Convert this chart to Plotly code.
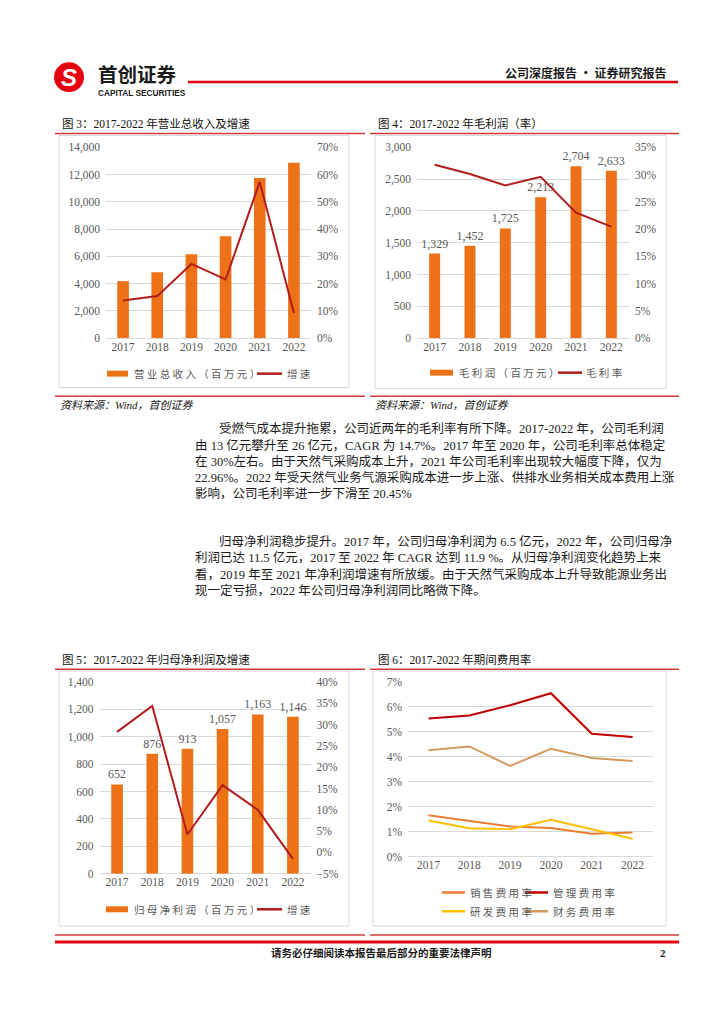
import plotly.graph_objects as go

W, H = 724, 1024


def X(p):
    return p / W


def Y(p):
    return 1 - p / H


# ---------------- data ----------------
years = ["2017", "2018", "2019", "2020", "2021", "2022"]
revenue = [4180, 4830, 6160, 7480, 11740, 12860]
revenue_growth = [0.138, 0.154, 0.272, 0.215, 0.573, 0.092]
gross_profit = [1329, 1452, 1725, 2213, 2704, 2633]
gross_margin = [0.318, 0.301, 0.280, 0.296, 0.230, 0.2045]
net_profit = [652, 876, 913, 1057, 1163, 1146]
net_growth = [0.283, 0.344, 0.042, 0.158, 0.100, -0.015]
sales_rate = [0.0167, 0.0144, 0.0122, 0.0116, 0.0093, 0.0098]
admin_rate = [0.0554, 0.0566, 0.0607, 0.0655, 0.0493, 0.0480]
rd_rate = [0.0146, 0.0115, 0.0111, 0.0149, 0.0111, 0.0073]
fin_rate = [0.0427, 0.0442, 0.0364, 0.0433, 0.0396, 0.0384]

para1 = [
    "受燃气成本提升拖累，公司近两年的毛利率有所下降。2017-2022 年，公司毛利润",
    "由 13 亿元攀升至 26 亿元，CAGR 为 14.7%。2017 年至 2020 年，公司毛利率总体稳定",
    "在 30%左右。由于天然气采购成本上升，2021 年公司毛利率出现较大幅度下降，仅为",
    "22.96%。2022 年受天然气业务气源采购成本进一步上涨、供排水业务相关成本费用上涨",
    "影响，公司毛利率进一步下滑至 20.45%",
]
para2 = [
    "归母净利润稳步提升。2017 年，公司归母净利润为 6.5 亿元，2022 年，公司归母净",
    "利润已达 11.5 亿元，2017 至 2022 年 CAGR 达到 11.9 %。从归母净利润变化趋势上来",
    "看，2019 年至 2021 年净利润增速有所放缓。由于天然气采购成本上升导致能源业务出",
    "现一定亏损，2022 年公司归母净利润同比略微下降。",
]

# ---------------- style ----------------
ORANGE = "#ED7117"
DARKRED = "#B21C1C"
SALES_C = "#ED7D31"
ADMIN_C = "#C00000"
RD_C = "#FFC000"
FIN_C = "#D29A5E"
GRID = "#D9D9D9"
TICK = "#595959"
RED = "#E00012"
TRED = "#D23A3A"
FONT = "Liberation Serif, Noto Sans CJK SC, serif"
CJK = "Noto Sans CJK SC, sans-serif"

fig = go.Figure()

# chart 3
fig.add_trace(go.Bar(x=years, y=revenue, width=0.34, marker=dict(color=ORANGE, line_width=0),
                     xaxis="x", yaxis="y", showlegend=False))
fig.add_trace(go.Scatter(x=years, y=revenue_growth, mode="lines", line=dict(color=DARKRED, width=2),
                         xaxis="x", yaxis="y2", showlegend=False))
# chart 4
fig.add_trace(go.Bar(x=years, y=gross_profit, width=0.31, marker=dict(color=ORANGE, line_width=0),
                     text=[f"{v:,}" for v in gross_profit], textposition="outside",
                     textfont=dict(family=FONT, size=12, color=TICK), constraintext="none",
                     textangle=0, cliponaxis=False, xaxis="x2", yaxis="y3", showlegend=False))
fig.add_trace(go.Scatter(x=years, y=gross_margin, mode="lines", line=dict(color=DARKRED, width=2),
                         xaxis="x2", yaxis="y4", showlegend=False))
# chart 5
fig.add_trace(go.Bar(x=years, y=net_profit, width=0.33, marker=dict(color=ORANGE, line_width=0),
                     text=[f"{v:,}" for v in net_profit], textposition="outside",
                     textfont=dict(family=FONT, size=12, color=TICK), constraintext="none",
                     textangle=0, cliponaxis=False, xaxis="x3", yaxis="y5", showlegend=False))
fig.add_trace(go.Scatter(x=years, y=net_growth, mode="lines", line=dict(color=DARKRED, width=2),
                         xaxis="x3", yaxis="y6", showlegend=False))
# chart 6
for vals, col in [(sales_rate, SALES_C), (admin_rate, ADMIN_C), (rd_rate, RD_C), (fin_rate, FIN_C)]:
    fig.add_trace(go.Scatter(x=years, y=vals, mode="lines", line=dict(color=col, width=2),
                             xaxis="x4", yaxis="y7", showlegend=False))

tickfont = dict(family=FONT, size=11.5, color=TICK)


def xax(x0, x1, anchor):
    return dict(domain=[X(x0), X(x1)], anchor=anchor, type="category", range=[-0.5, 5.5],
                showgrid=False, zeroline=False, showline=False, ticks="", tickfont=tickfont,
                fixedrange=True)


def yax(top, bot, anchor, rng, dtick, fmt, side="left", overlay=None, grid=True):
    d = dict(domain=[Y(bot), Y(top)], anchor=anchor, range=rng, dtick=dtick, tickformat=fmt,
             side=side, showgrid=grid, gridcolor=GRID, gridwidth=1, showline=False, ticks="",
             tickfont=tickfont, fixedrange=True, ticklabelstandoff=5)
    if grid:
        d.update(zeroline=True, zerolinecolor=GRID, zerolinewidth=1)
    else:
        d.update(zeroline=False)
    if overlay:
        d["overlaying"] = overlay
        d.pop("domain")
    return d


fig.update_layout(
    width=W, height=H, margin=dict(l=0, r=0, t=0, b=0),
    paper_bgcolor="white", plot_bgcolor="white",
    xaxis=xax(106, 311, "y"),
    yaxis=yax(143, 336, "x", [0, 14000], 2000, ","),
    yaxis2=yax(143, 336, "x", [0, 0.7], 0.1, ".0%", side="right", overlay="y", grid=False),
    xaxis2=xax(417, 629, "y3"),
    yaxis3=yax(143, 336, "x2", [0, 3000], 500, ","),
    yaxis4=yax(143, 336, "x2", [0, 0.35], 0.05, ".0%", side="right", overlay="y3", grid=False),
    xaxis3=xax(99.5, 310.5, "y5"),
    yaxis5=yax(684, 878, "x3", [0, 1400], 200, ","),
    yaxis6=yax(684, 878, "x3", [-0.05, 0.40], 0.05, ".0%", side="right", overlay="y5", grid=False),
    xaxis4=xax(408, 653, "y7"),
    yaxis7=yax(684, 861, "x4", [0, 0.07], 0.01, ".0%"),
    showlegend=False,
)

shapes = []
ann = []


def hline(x0, x1, y, color, width):
    shapes.append(dict(type="line", xref="paper", yref="paper", x0=X(x0), x1=X(x1), y0=Y(y), y1=Y(y),
                       line=dict(color=color, width=width)))


def rect(x0, y0, x1, y1, line=None, fill=None, lw=1):
    shapes.append(dict(type="rect", xref="paper", yref="paper", x0=X(x0), x1=X(x1), y0=Y(y1), y1=Y(y0),
                       line=dict(color=line or "rgba(0,0,0,0)", width=lw if line else 0),
                       fillcolor=fill or "rgba(0,0,0,0)", layer="below"))


def text(x, y, s, size, color="#1a1a1a", anchor="left", family=FONT):
    ann.append(dict(xref="paper", yref="paper", x=X(x), y=Y(y), text=s, showarrow=False,
                    xanchor=anchor, yanchor="middle", font=dict(family=family, size=size, color=color)))


# header
shapes.append(dict(type="circle", xref="paper", yref="paper", x0=X(54), x1=X(84), y0=Y(87), y1=Y(57),
                   fillcolor="#E60012", line=dict(width=0)))
text(69, 72, "<b><i>S</i></b>", 24, "white", "center", "Liberation Sans, Arial")
text(96, 68, "<b>首创证券</b>", 19.5, "#1a1a1a", "left", CJK)
text(96, 88, "<b>CAPITAL SECURITIES</b>", 8.3, "#1a1a1a", "left", "Liberation Sans, Arial")
hline(188, 678, 77, RED, 2.5)
text(668, 67, "<b>公司深度报告 · 证券研究报告</b>", 12, "#1a1a1a", "right", CJK)

# chart frames, titles
for (x0, x1, tx, title, ty, ly, bx0, bx1, by0, by1) in [
    (55, 365, 60, "图 3：2017-2022 年营业总收入及增速", 119, 129, 59, 349, 131, 386),
    (370, 679, 376, "图 4：2017-2022 年毛利润（率）", 119, 129, 375, 666, 131, 387),
    (55, 365, 60, "图 5：2017-2022 年归母净利润及增速", 661, 671, 59, 349, 673, 931),
    (370, 679, 376, "图 6：2017-2022 年期间费用率", 661, 671, 373, 666, 673, 931),
]:
    text(tx, ty, title, 11.5, "#111111", "left", FONT)
    hline(x0, x1, ly, TRED, 1.5)
    rect(bx0, by0, bx1, by1, line="#D9D9D9", lw=1)

# source lines under charts 3/4
hline(55, 365, 395, TRED, 1.5)
hline(370, 679, 395, TRED, 1.5)
text(58, 404, "<i>资料来源：Wind，首创证券</i>", 11, "#1a1a1a")
text(373, 404, "<i>资料来源：Wind，首创证券</i>", 11, "#1a1a1a")


# legends
def leg_bar(x0, x1, y, label, tx):
    rect(x0, y - 3, x1, y + 3, fill=ORANGE)
    text(tx, y, label, 10.5, TICK, "left", CJK)


def leg_line(x0, x1, y, label, tx, col):
    hline(x0, x1, y, col, 2.5)
    text(tx, y, label, 10.5, TICK, "left", CJK)


leg_bar(107, 128, 372, "营 业 总 收 入 （ 百 万 元 ）", 132)
leg_line(257, 282, 372, "增 速", 285, DARKRED)
leg_bar(430, 453, 371, "毛 利 润 （ 百 万 元 ）", 457)
leg_line(558, 582, 371, "毛 利 率", 584, DARKRED)
leg_bar(106, 128, 914, "归 母 净 利 润 （ 百 万 元 ）", 132)
leg_line(257, 282, 914, "增 速", 285, DARKRED)
leg_line(442, 465, 897, "销 售 费 用 率", 468, SALES_C)
leg_line(525, 548, 897, "管 理 费 用 率", 551, ADMIN_C)
leg_line(442, 465, 916, "研 发 费 用 率", 468, RD_C)
leg_line(525, 548, 916, "财 务 费 用 率", 551, FIN_C)

# body text
for i, line in enumerate(para1):
    text(217 if i == 0 else 193, 428 + i * 16.4, line, 12.5, "#1a1a1a")
for i, line in enumerate(para2):
    text(217 if i == 0 else 193, 542 + i * 16.4, line, 12.5, "#1a1a1a")

# footer
hline(55, 365, 940, TRED, 1.5)
hline(370, 679, 940, TRED, 1.5)
hline(55, 679, 947, RED, 3)
text(381, 958, "<b>请务必仔细阅读本报告最后部分的重要法律声明</b>", 10.5, "#1a1a1a", "center", CJK)
text(668, 958, "<b>2</b>", 11, "#1a1a1a", "right", FONT)

fig.update_layout(shapes=shapes, annotations=ann)

fig.write_html("out.html", config={"displayModeBar": False, "staticPlot": True},
               post_script="document.body.style.margin='0';document.body.style.overflow='hidden';")
